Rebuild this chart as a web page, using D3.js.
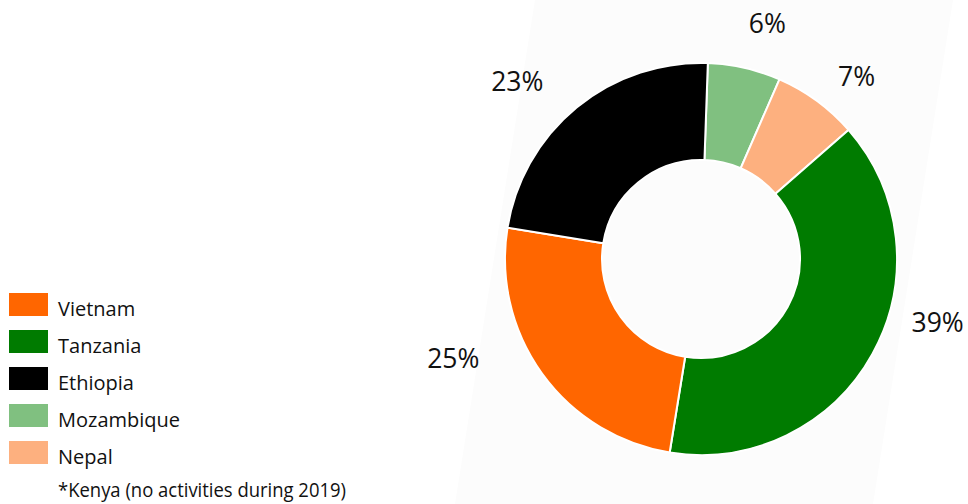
<!DOCTYPE html>
<html>
<head>
<meta charset="utf-8">
<script src="https://cdn.jsdelivr.net/npm/d3@7"></script>
<style>
  html, body { margin: 0; padding: 0; background: #ffffff; }
  svg { display: block; }
  text { font-family: "Open Sans", "Noto Sans", sans-serif; fill: #111; }
</style>
</head>
<body>
<svg id="chart" width="968" height="504"></svg>
<script>
// ---- data ----
const sliceNames   = ["Mozambique", "Nepal", "Tanzania", "Vietnam", "Ethiopia"];
const sliceValues  = [6, 7, 39, 25, 23];
const legendNames  = ["Vietnam", "Tanzania", "Ethiopia", "Mozambique", "Nepal"];
const footnote     = "*Kenya (no activities during 2019)";
const colorDomain  = ["Vietnam", "Tanzania", "Ethiopia", "Mozambique", "Nepal"];
const colorRange   = ["#ff6600", "#007b00", "#000000", "#80c080", "#fdb07f"];

// ---- layout ----
const svg = d3.select("#chart");
const cx = 701, cy = 259;
const outerR = 196, innerR = 99;
const startDeg = 2;

const color = d3.scaleOrdinal().domain(colorDomain).range(colorRange);

// faint rotated backdrop (the original is a slightly rotated white panel)
svg.append("polygon")
  .attr("points", [[535,0],[953,0],[873,504],[455,504]].map(p => p.join(",")).join(" "))
  .attr("fill", "#fcfcfc");

const data = sliceNames.map((n, i) => ({ name: n, value: sliceValues[i] }));

const pie = d3.pie()
  .value(d => d.value)
  .sort(null)
  .startAngle(startDeg * Math.PI / 180)
  .endAngle(startDeg * Math.PI / 180 + 2 * Math.PI);

const arcs = pie(data);
const arc = d3.arc().innerRadius(innerR).outerRadius(outerR);
const labelArc = d3.arc().innerRadius(250).outerRadius(250);

const g = svg.append("g").attr("transform", `translate(${cx},${cy})`);

g.selectAll("path.slice")
  .data(arcs)
  .join("path")
  .attr("class", "slice")
  .attr("d", arc)
  .attr("fill", d => color(d.data.name))
  .attr("stroke", "#ffffff")
  .attr("stroke-width", 2)
  .attr("stroke-linejoin", "round");

// label nudges (best-fit style placement) keyed by slice name
const labelNudge = {
  Mozambique: [11, 18],
  Nepal: [8, 29],
  Tanzania: [18, -48],
  Vietnam: [-45, -37],
  Ethiopia: [-25, 25]
};

g.selectAll("text.pct")
  .data(arcs)
  .join("text")
  .attr("class", "pct")
  .attr("text-anchor", "middle")
  .attr("x", d => labelArc.centroid(d)[0] + labelNudge[d.data.name][0])
  .attr("y", d => labelArc.centroid(d)[1] + labelNudge[d.data.name][1])
  .style("font-size", "26.5px")
  .text(d => d.data.value + "%");

// ---- legend ----
const legY = d3.scalePoint().domain(legendNames).range([293, 441]);
const leg = svg.append("g");

leg.selectAll("rect")
  .data(legendNames)
  .join("rect")
  .attr("x", 9)
  .attr("y", d => legY(d))
  .attr("width", 39)
  .attr("height", 23)
  .attr("fill", d => color(d));

leg.selectAll("text.leg")
  .data(legendNames)
  .join("text")
  .attr("class", "leg")
  .attr("x", 58)
  .attr("y", d => legY(d) + 23)
  .style("font-size", "20px")
  .text(d => d);

leg.append("text")
  .attr("x", 58)
  .attr("y", 497)
  .style("font-size", "20px")
  .attr("textLength", 288)
  .attr("lengthAdjust", "spacingAndGlyphs")
  .text(footnote);
</script>
</body>
</html>
